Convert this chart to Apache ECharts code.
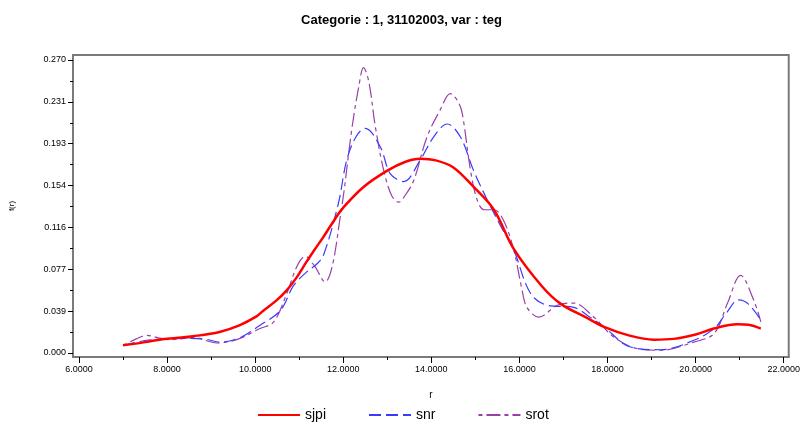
<!DOCTYPE html>
<html>
<head>
<meta charset="utf-8">
<script src="https://cdn.jsdelivr.net/npm/echarts@6/dist/echarts.min.js"></script>
<style>html,body{margin:0;padding:0;background:#fff;}#c{width:803px;height:423px;}</style>
</head>
<body>
<div id="c"></div>
<script>
// ---- data ----
var sjpiX = [7.0, 7.5, 7.83, 8.2, 8.59, 9.19, 9.64, 10.02, 10.17, 10.47, 10.7, 10.93, 11.15, 11.34, 11.55, 11.82, 12.0, 12.46, 13.0, 13.4, 13.75, 14.1, 14.5, 14.96, 15.42, 15.87, 16.5, 16.93, 17.5, 17.92, 18.5, 19.05, 19.5, 20.0, 20.41, 20.95, 21.2, 21.48];
var sjpiY = [0.0071, 0.0100, 0.0123, 0.0138, 0.0154, 0.0194, 0.0255, 0.0335, 0.0385, 0.0480, 0.0570, 0.0690, 0.0830, 0.0947, 0.1070, 0.1240, 0.1340, 0.1530, 0.1680, 0.1760, 0.1790, 0.1775, 0.1710, 0.1530, 0.1320, 0.0960, 0.0620, 0.0455, 0.0330, 0.0240, 0.0160, 0.0123, 0.0130, 0.0170, 0.0225, 0.0265, 0.0260, 0.0225];

var snrX = [7.0, 7.5, 8.0, 8.5, 8.9, 9.2, 9.66, 10.11, 10.57, 10.87, 11.17, 11.4, 11.55, 11.89, 12.08, 12.3, 12.5, 12.84, 13.07, 13.37, 13.75, 14.05, 14.36, 14.66, 14.96, 15.27, 15.6, 15.87, 16.25, 16.63, 17.23, 17.6, 17.92, 18.52, 19.2, 19.96, 20.42, 20.7, 20.98, 21.2, 21.51];
var snrY = [0.0070, 0.0115, 0.0130, 0.0135, 0.0125, 0.0100, 0.0142, 0.0255, 0.0390, 0.0620, 0.0747, 0.0820, 0.0900, 0.1380, 0.1780, 0.2000, 0.2070, 0.1900, 0.1650, 0.1580, 0.1780, 0.1990, 0.2110, 0.1990, 0.1680, 0.1410, 0.1150, 0.0950, 0.0550, 0.0440, 0.0420, 0.0330, 0.0240, 0.0055, 0.0030, 0.0117, 0.0225, 0.0370, 0.0490, 0.0450, 0.0286];

var srotX = [7.0, 7.3, 7.54, 7.8, 8.07, 8.6, 9.13, 9.58, 10.11, 10.42, 10.72, 10.95, 11.14, 11.35, 11.59, 11.75, 11.93, 12.01, 12.2, 12.35, 12.46, 12.58, 12.73, 12.92, 13.1, 13.26, 13.4, 13.6, 13.9, 14.2, 14.43, 14.6, 14.7, 14.89, 15.04, 15.2, 15.42, 15.64, 15.87, 16.05, 16.17, 16.44, 16.86, 17.23, 17.69, 18.14, 18.67, 19.2, 19.96, 20.42, 20.72, 21.02, 21.32, 21.48];
var srotY = [0.0070, 0.0130, 0.0163, 0.0140, 0.0123, 0.0142, 0.0092, 0.0123, 0.0225, 0.0286, 0.0550, 0.0800, 0.0890, 0.0800, 0.0655, 0.0800, 0.1250, 0.1470, 0.2080, 0.2450, 0.2630, 0.2500, 0.2080, 0.1680, 0.1450, 0.1390, 0.1450, 0.1590, 0.1990, 0.2240, 0.2390, 0.2320, 0.2210, 0.1680, 0.1410, 0.1320, 0.1320, 0.1220, 0.0950, 0.0600, 0.0420, 0.0330, 0.0440, 0.0460, 0.0330, 0.0148, 0.0040, 0.0025, 0.0100, 0.0180, 0.0455, 0.0716, 0.0486, 0.0286];

var xMajorTicks = [6, 8, 10, 12, 14, 16, 18, 20, 22];
var xMinorTicks = [7, 9, 11, 13, 15, 17, 19, 21];
var yMajorTicks = [0, 0.27/7, 0.54/7, 0.81/7, 1.08/7, 1.35/7, 1.62/7, 0.27];
var yTickLabels = ['0.000', '0.039', '0.077', '0.116', '0.154', '0.193', '0.231', '0.270'];
var yMinorTicks = [0.135/7, 0.405/7, 0.675/7, 0.945/7, 1.215/7, 1.485/7, 1.755/7];

// ---- chart ----
function zip(xs, ys) { return xs.map(function (x, i) { return [x, ys[i]]; }); }
var FONT = '"Liberation Sans", Arial, sans-serif';
var XMIN = 5.864, XMAX = 22.113, YMIN = -0.0037, YMAX = 0.2746;
var axisCol = '#7a7a7a';

var chart = echarts.init(document.getElementById('c'), null, { renderer: 'canvas' });
chart.setOption({
  animation: false,
  backgroundColor: '#ffffff',
  title: {
    text: 'Categorie : 1, 31102003, var : teg',
    left: 'center', top: 9,
    textStyle: { fontFamily: FONT, fontSize: 13, fontWeight: 'bold', color: '#000' }
  },
  grid: {
    left: 73, right: 13, top: 55, bottom: 66,
    show: true, borderColor: axisCol, borderWidth: 2, backgroundColor: '#fff'
  },
  legend: {
    top: 403, left: 252,
    itemWidth: 42, itemHeight: 12, itemGap: 42,
    itemStyle: { opacity: 0 },
    textStyle: { fontFamily: FONT, fontSize: 14, color: '#000' },
    data: ['sjpi', 'snr', 'srot']
  },
  xAxis: [{
    type: 'value', min: XMIN, max: XMAX,
    name: 'r', nameLocation: 'middle', nameGap: 33,
    nameTextStyle: { fontFamily: FONT, fontSize: 10, color: '#000' },
    splitLine: { show: false },
    axisLine: { show: true, onZero: false, lineStyle: { color: axisCol, width: 2 } },
    axisTick: { show: true, customValues: xMajorTicks, length: 6, lineStyle: { color: '#000', width: 1 } },
    axisLabel: {
      customValues: xMajorTicks, margin: 8,
      fontFamily: FONT, fontSize: 9, color: '#000',
      formatter: function (v) { return v.toFixed(4); }
    }
  }, {
    type: 'value', min: XMIN, max: XMAX, position: 'bottom', gridIndex: 0,
    splitLine: { show: false },
    axisLine: { show: false, onZero: false },
    axisTick: { show: true, customValues: xMinorTicks, length: 3, lineStyle: { color: '#000', width: 1 } },
    axisLabel: { show: false }
  }],
  yAxis: [{
    type: 'value', min: YMIN, max: YMAX,
    name: 'f(r)', nameLocation: 'middle', nameGap: 57, nameRotate: 90,
    nameTextStyle: { fontFamily: FONT, fontSize: 8, color: '#000' },
    splitLine: { show: false },
    axisLine: { show: true, onZero: false, lineStyle: { color: axisCol, width: 2 } },
    axisTick: { show: true, customValues: yMajorTicks, length: 5, lineStyle: { color: '#000', width: 1 } },
    axisLabel: {
      customValues: yMajorTicks, margin: 7,
      fontFamily: FONT, fontSize: 9, color: '#000',
      formatter: function (v) {
        var best = 0, d = 1e9;
        yMajorTicks.forEach(function (t, i) { if (Math.abs(t - v) < d) { d = Math.abs(t - v); best = i; } });
        return yTickLabels[best];
      }
    }
  }, {
    type: 'value', min: YMIN, max: YMAX, position: 'left', gridIndex: 0,
    splitLine: { show: false },
    axisLine: { show: false, onZero: false },
    axisTick: { show: true, customValues: yMinorTicks, length: 3, lineStyle: { color: '#000', width: 1 } },
    axisLabel: { show: false }
  }],
  series: [{
    name: 'sjpi', type: 'line', data: zip(sjpiX, sjpiY), smooth: 0.35,
    showSymbol: false, symbol: 'none', z: 4,
    lineStyle: { color: '#ff0000', width: 2.5, type: 'solid' },
    itemStyle: { color: '#ff0000' }
  }, {
    name: 'snr', type: 'line', data: zip(snrX, snrY), smooth: 0.35,
    showSymbol: false, symbol: 'none', z: 3,
    lineStyle: { color: '#3a3aff', width: 1.2, type: [12, 5] },
    itemStyle: { color: '#3a3aff' }
  }, {
    name: 'srot', type: 'line', data: zip(srotX, srotY), smooth: 0.35,
    showSymbol: false, symbol: 'none', z: 2,
    lineStyle: { color: '#9a3fa8', width: 1.2, type: [4, 4, 14, 4] },
    itemStyle: { color: '#9a3fa8' }
  }]
});
</script>
</body>
</html>
